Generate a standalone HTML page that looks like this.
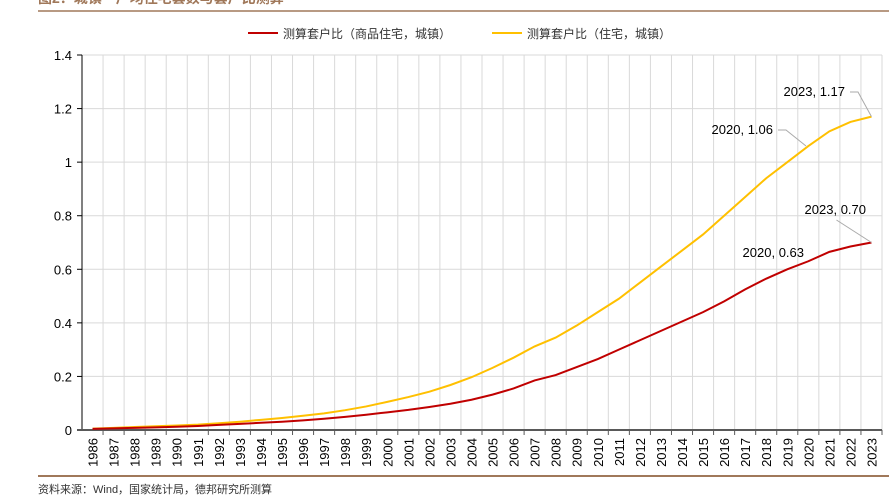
<!DOCTYPE html>
<html><head><meta charset="utf-8"><style>
body{margin:0;background:#fff;width:889px;height:496px;overflow:hidden}
svg text{font-family:"Liberation Sans","Noto Sans CJK SC",sans-serif}
</style></head><body>
<svg width="889" height="496">
<text x="38" y="3" font-size="14" fill="#a0785a" font-weight="bold">图2：城镇一户均住宅套数与套户比测算</text>
<line x1="38" y1="11" x2="889" y2="11" stroke="#a0785a" stroke-width="1.5"/>
<g>
<line x1="248" y1="33" x2="278" y2="33" stroke="#c00000" stroke-width="2"/>
<text x="283" y="38" font-size="12" fill="#333">测算套户比（商品住宅，城镇）</text>
<line x1="492" y1="33" x2="522" y2="33" stroke="#ffc000" stroke-width="2"/>
<text x="527" y="38" font-size="12" fill="#333">测算套户比（住宅，城镇）</text>
</g>
<g id="grid"></g><g id="axes"></g><g id="series"></g><g id="ann"></g>
<line x1="38" y1="476" x2="889" y2="476" stroke="#a0785a" stroke-width="2"/>
<text x="38" y="493" font-size="11" fill="#333">资料来源：Wind，国家统计局，德邦研究所测算</text>
</svg>
<script>
const years=[];for(let y=1986;y<=2023;y++)years.push(String(y));
const housingRatio=[0.005,0.008,0.011,0.014,0.017,0.02,0.025,0.031,0.038,0.045,0.053,0.062,0.074,0.088,0.105,0.123,0.143,0.168,0.197,0.232,0.27,0.312,0.345,0.39,0.44,0.49,0.55,0.61,0.67,0.73,0.80,0.87,0.94,1.0,1.06,1.115,1.15,1.17];
const commercialRatio=[0.004,0.006,0.008,0.01,0.012,0.015,0.019,0.023,0.027,0.031,0.036,0.042,0.049,0.057,0.066,0.075,0.086,0.098,0.113,0.132,0.155,0.185,0.205,0.235,0.265,0.3,0.335,0.37,0.405,0.44,0.48,0.525,0.565,0.60,0.63,0.665,0.685,0.70];
const yTicks=[0,0.2,0.4,0.6,0.8,1,1.2,1.4];
const annotations=[{i:37,s:'h',t:'2023, 1.17'},{i:34,s:'h',t:'2020, 1.06'},{i:37,s:'c',t:'2023, 0.70'},{i:34,s:'c',t:'2020, 0.63'}];
const NS='http://www.w3.org/2000/svg';
const L=82,R=882,T=55,B=430;
const bw=(R-L)/years.length;
const x=i=>L+bw*(i+0.5);
const y=v=>B-(v/1.4)*(B-T);
function mk(tag,parent,attrs){const e=document.createElementNS(NS,tag);for(const k in attrs)e.setAttribute(k,attrs[k]);document.getElementById(parent).appendChild(e);return e;}
for(let i=1;i<=years.length;i++){const e=mk('line','grid',{x1:L+bw*i,x2:L+bw*i,y1:T,y2:B,stroke:'#d9d9d9','stroke-width':1});

}
yTicks.forEach(v=>{if(v>0){const g=mk('line','grid',{x1:L,x2:R,y1:y(v),y2:y(v),stroke:'#d9d9d9','stroke-width':1});

}
const t=mk('line','axes',{x1:L-5,x2:L,y1:y(v),y2:y(v),stroke:'#000'});


const lb=mk('text','axes',{x:L-10,y:y(v)+5,'text-anchor':'end','font-size':13,fill:'#000'});lb.textContent=String(v);

});
const ya=mk('line','axes',{x1:L,x2:L,y1:T,y2:B,stroke:'#000'});


const xa=mk('line','axes',{x1:L-5,x2:R,y1:B,y2:B,stroke:'#595959','stroke-width':2});


years.forEach((yr,i)=>{const tk=mk('line','axes',{x1:L+bw*(i+1),x2:L+bw*(i+1),y1:B,y2:B+5,stroke:'#595959'});


const t=mk('text','axes',{transform:`translate(${x(i)+5},${B+8}) rotate(-90)`,'text-anchor':'end','font-size':13,fill:'#000'});t.textContent=yr;

});
function line(arr,color,name){const p=mk('polyline','series',{points:arr.map((v,i)=>x(i)+','+y(v)).join(' '),fill:'none',stroke:color,'stroke-width':2});

}
line(housingRatio,'#ffc000','series-housing-line');
line(commercialRatio,'#c00000','series-commercial-line');
annotations.forEach(a=>{const v=(a.s==='h'?housingRatio:commercialRatio)[a.i];const px=x(a.i),py=y(v);
let tx,ty;
if(a.s==='h'&&a.i===37){tx=845;ty=96;const l=mk('polyline','ann',{points:`${tx+5},${ty-4} ${tx+13},${ty-4} ${px},${py}`,fill:'none',stroke:'#aaa'});}
else if(a.s==='h'){tx=773;ty=134;const l=mk('polyline','ann',{points:`${tx+5},${ty-4} ${tx+13},${ty-4} ${tx+33},${ty+12}`,fill:'none',stroke:'#aaa'});}
else if(a.i===37){tx=866;ty=214;const l=mk('polyline','ann',{points:`${px-35},${ty+6} ${px},${py}`,fill:'none',stroke:'#aaa'});}
else{tx=804;ty=257;}
const t=mk('text','ann',{x:tx,y:ty,'text-anchor':'end','font-size':13,fill:'#000'});t.textContent=a.t;

});
</script>
</body></html>
